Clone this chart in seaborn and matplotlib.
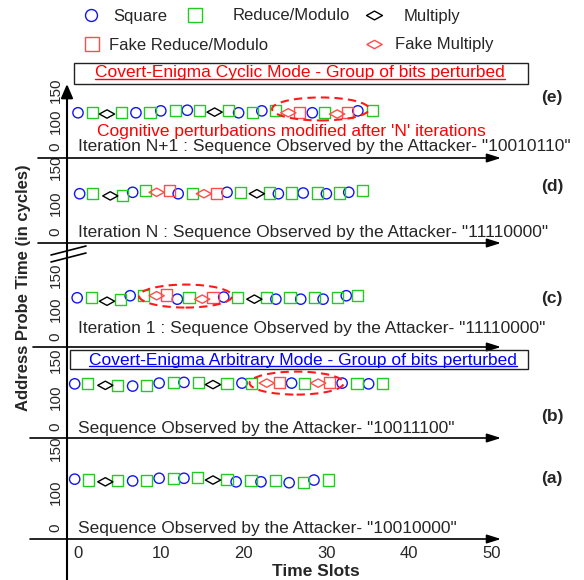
import matplotlib
matplotlib.use("Agg")
import matplotlib.pyplot as plt
import seaborn as sns
import numpy as np
import pandas as pd
from matplotlib.path import Path
from matplotlib.patches import Ellipse, Rectangle, FancyArrowPatch
from matplotlib.lines import Line2D
from matplotlib.ticker import NullLocator

# ---------------- data (time slot, probe time in cycles) ----------------
seq_a = ["S", "R", "M", "R", "S", "R", "S", "R", "S", "R", "M", "R",
         "S", "R", "S", "R", "S", "R", "S", "R"]
x_a = [-0.4, 1.3, 3.3, 4.8, 6.6, 8.3, 9.8, 11.5, 12.8, 14.4, 16.3, 18.0,
       19.1, 20.9, 22.1, 23.9, 25.5, 27.2, 28.5, 30.2]
y_a = [115, 114, 112, 113, 113, 113, 116, 116, 116, 117, 114, 115,
       112, 113, 112, 113, 111, 111, 114, 114]

seq_b = ["S", "R", "M", "R", "S", "R", "S", "R", "S", "R", "M", "R",
         "S", "R", "FM", "FR", "S", "R", "FM", "FR", "S", "R", "S", "R"]
x_b = [-0.4, 1.2, 3.3, 4.8, 6.6, 8.3, 9.8, 11.5, 12.8, 14.5, 16.3, 18.0,
       19.8, 21.0, 22.8, 24.3, 25.8, 27.4, 29.0, 30.4, 31.9, 33.7, 35.1, 36.8]
y_b = [118, 119, 116, 116, 115, 116, 119, 120, 120, 120, 117, 119,
       119, 119, 119, 120, 119, 119, 119, 120, 119, 119, 118, 119]

seq_c = ["S", "R", "M", "R", "S", "R", "FM", "FR", "S", "R", "FM", "FR",
         "S", "R", "M", "R", "S", "R", "S", "R", "S", "R", "S", "R"]
x_c = [-0.1, 1.6, 3.5, 5.1, 6.3, 7.9, 9.5, 10.7, 12.0, 13.4, 15.0, 16.3,
       17.6, 19.3, 21.3, 22.8, 23.9, 25.6, 26.9, 28.6, 29.6, 31.3, 32.4, 33.8]
y_c = [117, 117, 112, 115, 120, 120, 120, 121, 115, 117, 115, 117,
       118, 118, 115, 118, 115, 117, 115, 117, 115, 117, 120, 120]

seq_d = ["S", "R", "M", "R", "S", "R", "FM", "FR", "S", "R", "FM", "FR",
         "S", "R", "M", "R", "S", "R", "S", "R", "S", "R", "S", "R"]
x_d = [0.2, 1.8, 3.9, 5.4, 6.6, 8.2, 9.5, 11.1, 12.1, 13.8, 15.2, 16.7,
       18.0, 19.6, 21.6, 23.1, 24.2, 25.8, 27.2, 28.9, 30.0, 31.6, 32.7, 34.4]
y_d = [113, 113, 110, 111, 115, 117, 115, 117, 113, 113, 113, 113,
       115, 115, 113, 114, 113, 114, 114, 114, 113, 114, 115, 117]

seq_e = ["S", "R", "M", "R", "S", "R", "S", "R", "S", "R", "M", "R",
         "S", "R", "S", "R", "FM", "FR", "S", "R", "FM", "FR", "S", "R"]
x_e = [0.0, 1.7, 3.5, 5.2, 7.0, 8.7, 10.0, 11.8, 13.2, 14.7, 16.5, 18.2,
       19.4, 21.1, 22.2, 23.9, 25.4, 26.7, 28.3, 29.8, 31.3, 32.6, 33.8, 35.6]
y_e = [114, 115, 112, 114, 114, 114, 117, 117, 118, 118, 115, 117,
       114, 114, 117, 117, 114, 115, 114, 114, 112, 114, 117, 117]

op_labels = {"S": "Square", "R": "Reduce/Modulo", "M": "Multiply",
             "FR": "Fake Reduce/Modulo", "FM": "Fake Multiply"}
x_ticks = [0, 10, 20, 30, 40, 50]
y_ticks = [0, 100, 150]

# ---------------- styling ----------------
W, H = 584, 580
FS = 12.5
BLUE, GREEN, FAKE = "#1414f0", "#1fcc1f", "#ff4c4c"
diamond = Path([(-1, 0), (0, 0.55), (1, 0), (0, -0.55), (-1, 0)],
               [Path.MOVETO, Path.LINETO, Path.LINETO, Path.LINETO, Path.CLOSEPOLY])
op_style = {
    "S": dict(marker="o", s=55, color=BLUE),
    "R": dict(marker="s", s=64, color=GREEN),
    "M": dict(marker=diamond, s=120, color="black"),
    "FR": dict(marker="s", s=64, color=FAKE),
    "FM": dict(marker=diamond, s=120, color=FAKE),
}

sns.set_theme(style="white")
plt.rcParams["font.family"] = ["Liberation Sans", "DejaVu Sans"]


def fwd(v):
    v = np.asarray(v, dtype=float)
    return np.where(v <= 100, v * 0.008, 0.8 + (v - 100) / 50.0)


def inv(f):
    f = np.asarray(f, dtype=float)
    return np.where(f <= 0.8, f / 0.008, 100 + (f - 0.8) * 50.0)


def fx(px):
    return px / W


def fy(py):
    return 1 - py / H


# panel layout in pixels: top, bottom(arrow), pixel of "0", pixels per scale unit
panels = [
    dict(seq=seq_e, x=x_e, y=y_e, top=85, bottom=158, y0=147, pxu=31.7,
         text="Iteration N+1 : Sequence Observed by the Attacker- \"10010110\"",
         ty=147, tag="(e)", tagy=97, ell=(29.3, 120, 97, 23), arrow_from=38),
    dict(seq=seq_d, x=x_d, y=y_d, top=158, bottom=243, y0=232, pxu=36.1,
         text="Iteration N : Sequence Observed by the Attacker- \"11110000\"",
         ty=232, tag="(d)", tagy=187, ell=None, arrow_from=38),
    dict(seq=seq_c, x=x_c, y=y_c, top=258, bottom=347, y0=337, pxu=34.4,
         text="Iteration 1 : Sequence Observed by the Attacker- \"11110000\"",
         ty=329, tag="(c)", tagy=298, ell=(13.0, 119.5, 93, 23), arrow_from=33),
    dict(seq=seq_b, x=x_b, y=y_b, top=347, bottom=438, y0=427, pxu=37.2,
         text="Sequence Observed by the Attacker- \"10011100\"",
         ty=428, tag="(b)", tagy=417, ell=(26.4, 119, 94, 23), arrow_from=30),
    dict(seq=seq_a, x=x_a, y=y_a, top=438, bottom=539, y0=528, pxu=44.4,
         text="Sequence Observed by the Attacker- \"10010000\"",
         ty=529, tag="(a)", tagy=478, ell=None, arrow_from=30),
]

fig = plt.figure(figsize=(W / 100, H / 100), dpi=100)
AX_L, AX_R = 67, 505
X0_PX, PX_PER_SLOT = 78, 8.28

axes = []
for i, p in enumerate(panels):
    ax = fig.add_axes([fx(AX_L), fy(p["bottom"]), (AX_R - AX_L) / W,
                       (p["bottom"] - p["top"]) / H])
    df = pd.DataFrame({"slot": p["x"], "cycles": p["y"], "op": p["seq"]})
    for op, st in op_style.items():
        sub = df[df["op"] == op]
        if sub.empty:
            continue
        sns.scatterplot(data=sub, x="slot", y="cycles", marker=st["marker"], s=st["s"],
                        facecolor="none", edgecolor=st["color"], linewidth=1.0,
                        ax=ax, legend=False, zorder=3)
    ax.set_yscale("function", functions=(fwd, inv))
    f_b = -(p["bottom"] - p["y0"]) / p["pxu"]
    f_t = (p["y0"] - p["top"]) / p["pxu"]
    ax.set_ylim(float(inv(f_b)), float(inv(f_t)))
    ax.set_xlim((AX_L - X0_PX) / PX_PER_SLOT, (AX_R - X0_PX) / PX_PER_SLOT)
    ax.set_yticks(y_ticks)
    ax.set_yticklabels([str(t) for t in y_ticks])
    ax.yaxis.set_minor_locator(NullLocator())
    ax.tick_params(axis="y", length=0, pad=3, labelsize=11)
    for lbl in ax.get_yticklabels():
        lbl.set_rotation(90)
        lbl.set_va("center")
    if i == len(panels) - 1:
        ax.set_xticks(x_ticks)
        ax.tick_params(axis="x", length=0, pad=5, labelsize=12)
    else:
        ax.set_xticks([])
    ax.set_xlabel("")
    ax.set_ylabel("")
    for sp in ax.spines.values():
        sp.set_visible(False)
    ax.patch.set_alpha(0)
    axes.append(ax)

    # horizontal axis arrow under each panel
    fig.add_artist(FancyArrowPatch((fx(p["arrow_from"]), fy(p["bottom"])),
                                   (fx(501), fy(p["bottom"])),
                                   transform=fig.transFigure,
                                   arrowstyle="-|>,head_length=0.7,head_width=0.22",
                                   mutation_scale=12, shrinkA=0, shrinkB=0,
                                   lw=1.2, color="black"))
    fig.text(fx(78), fy(p["ty"]), p["text"], ha="left", va="center", fontsize=FS)
    fig.text(fx(552), fy(p["tagy"]), p["tag"], ha="center", va="center",
             fontsize=12.5, fontweight="bold")

# vertical axis arrow and break mark
fig.add_artist(FancyArrowPatch((fx(67), fy(580)), (fx(67), fy(84)),
                               transform=fig.transFigure,
                               arrowstyle="-|>,head_length=0.7,head_width=0.3",
                               mutation_scale=12, shrinkA=0, shrinkB=0,
                               lw=1.5, color="black"))
for dy in (0, 7):
    fig.add_artist(Line2D([fx(51), fx(86)], [fy(255 + dy), fy(246 + dy)],
                          transform=fig.transFigure, color="black", lw=1.2))

# mode boxes
fig.add_artist(Rectangle((fx(74), fy(84)), (528 - 74) / W, (84 - 63) / H,
                         transform=fig.transFigure, fill=False, ec="#222222", lw=1.0))
fig.add_artist(Rectangle((fx(70), fy(369)), (528 - 70) / W, (369 - 350) / H,
                         transform=fig.transFigure, fill=False, ec="#222222", lw=1.0))
t_cyc = fig.text(fx(300), fy(73), "Covert-Enigma Cyclic Mode - Group of bits perturbed",
                 ha="center", va="center", fontsize=FS, color="red")
t_arb = fig.text(fx(303), fy(360), "Covert-Enigma Arbitrary Mode - Group of bits perturbed",
                 ha="center", va="center", fontsize=FS, color="blue")
fig.text(fx(97), fy(131), "Cognitive perturbations modified after 'N' iterations",
         ha="left", va="center", fontsize=FS, color="red")

# axis titles
fig.text(fx(24), fy(288), "Address Probe Time (in cycles)", rotation=90,
         ha="center", va="center", fontsize=12, fontweight="bold")
fig.text(fx(316), fy(571), "Time Slots", ha="center", va="center",
         fontsize=12.5, fontweight="bold")

# legend entries (placed individually like the original)
LEG_FS = 12
em = LEG_FS * 100 / 72
leg_items = [
    ("S", "o", 8.6, BLUE, 91, 16, 113),
    ("R", "s", 10, GREEN, 195, 16, 233),
    ("M", diamond, 11.5, "black", 374, 16, 404),
    ("FR", "s", 9.5, FAKE, 92, 45, 109),
    ("FM", diamond, 11, FAKE, 374, 45, 395),
]
for op, mk, ms, col, mx, my, tx in leg_items:
    h = Line2D([], [], marker=mk, markersize=ms, markerfacecolor="none",
               markeredgecolor=col, markeredgewidth=1.0, linestyle="none")
    x0 = mx - em / 2
    pad = (tx - x0 - em) / em
    fig.legend(handles=[h], labels=[op_labels[op]], loc="center left",
               bbox_to_anchor=(fx(x0), fy(my)), frameon=False, fontsize=LEG_FS,
               handlelength=1.0, handletextpad=pad, borderpad=0, borderaxespad=0)

# dashed ellipses around perturbed groups
for ax, p in zip(axes, panels):
    if p["ell"] is None:
        continue
    ex, ey, ew, eh = p["ell"]
    cx, cy = ax.transData.transform((ex, ey))
    fig.add_artist(Ellipse((cx / W, cy / H), ew / W, eh / H, transform=fig.transFigure,
                           fill=False, ec="#ff1a1a", lw=1.5, ls=(0, (4, 2.5)), zorder=5))

# underline the mode titles
fig.canvas.draw()
for t, col in ((t_cyc, "red"), (t_arb, "blue")):
    bb = t.get_window_extent()
    fig.add_artist(Line2D([bb.x0 / W, bb.x1 / W], [(bb.y0 + 2) / H] * 2,
                          transform=fig.transFigure, color=col, lw=1.0))

fig.savefig("out.png", dpi=100)
